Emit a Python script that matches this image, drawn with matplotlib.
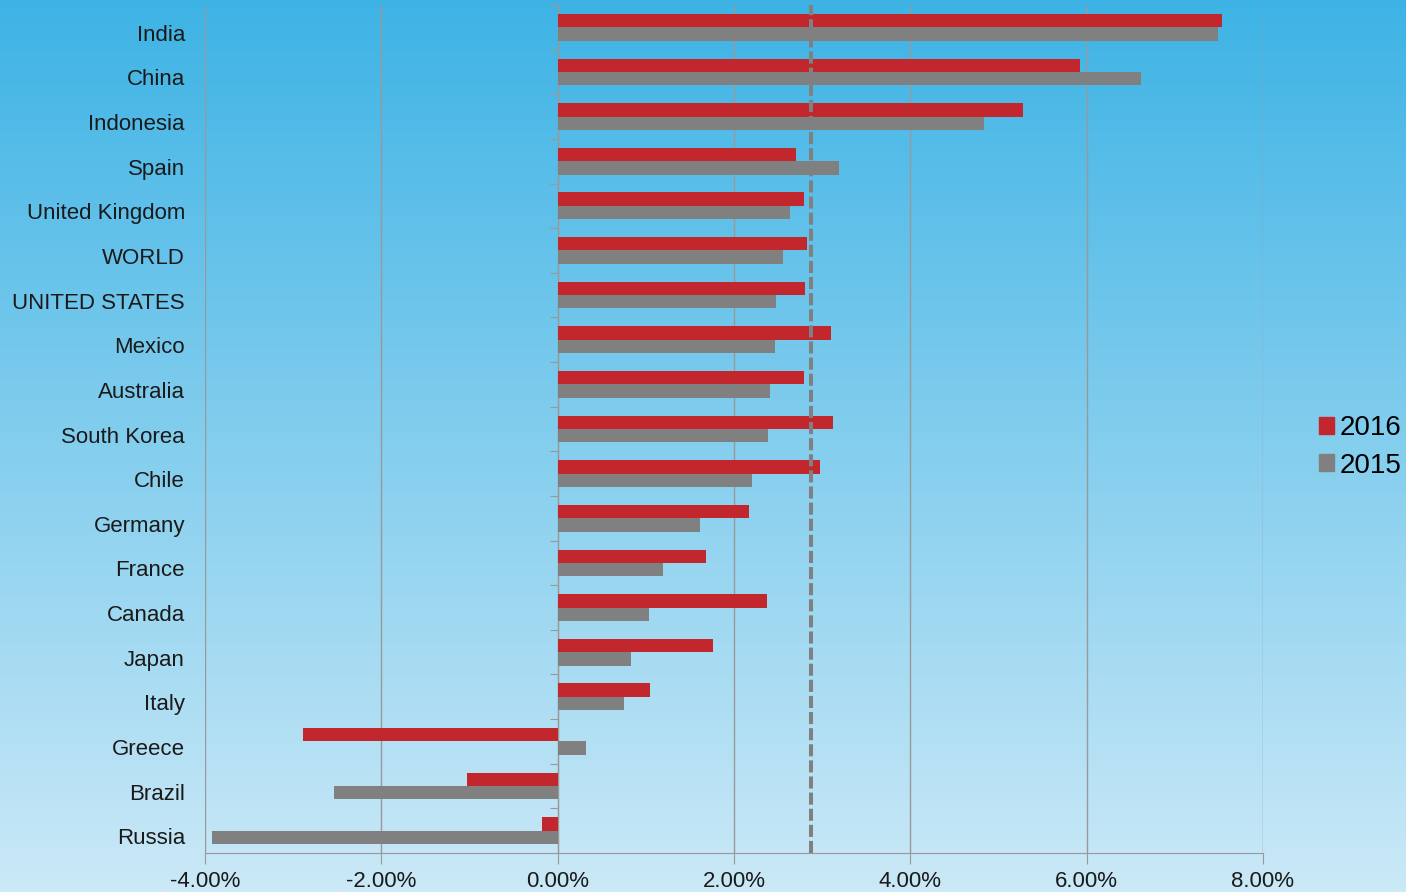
import numpy as np
import matplotlib
matplotlib.use("Agg")
import matplotlib.pyplot as plt
from matplotlib.patches import Patch
from matplotlib.colors import LinearSegmentedColormap

plt.rcParams['font.family'] = ['Liberation Sans', 'DejaVu Sans']

countries = ['India', 'China', 'Indonesia', 'Spain', 'United Kingdom', 'WORLD',
             'UNITED STATES', 'Mexico', 'Australia', 'South Korea', 'Chile',
             'Germany', 'France', 'Canada', 'Japan', 'Italy', 'Greece',
             'Brazil', 'Russia']
g2016 = [7.54, 5.93, 5.28, 2.70, 2.79, 2.83, 2.81, 3.10, 2.79, 3.12, 2.98,
         2.17, 1.68, 2.37, 1.76, 1.05, -2.89, -1.03, -0.18]
g2015 = [7.49, 6.62, 4.84, 3.19, 2.63, 2.56, 2.48, 2.47, 2.41, 2.39, 2.20,
         1.61, 1.20, 1.04, 0.83, 0.75, 0.32, -2.54, -3.92]
ref_line = 2.87
xticks = [-4, -2, 0, 2, 4, 6, 8]

red = '#c1272d'
gray = '#808080'
txt = '#1a1a1a'

fig = plt.figure(figsize=(14.06, 8.92), dpi=100)

# background gradient
bg = fig.add_axes([0, 0, 1, 1], zorder=-10)
grad = np.linspace(0, 1, 256).reshape(-1, 1)
cmap = LinearSegmentedColormap.from_list('bg', ['#3db3e5', '#cbe9f7'])
bg.imshow(grad, aspect='auto', cmap=cmap, extent=[0, 1, 0, 1], origin='upper')
bg.axis('off')

W, H = 1406, 892
ax = fig.add_axes([205 / W, (H - 853) / H, (1263 - 205) / W, (853 - 5) / H])
ax.patch.set_alpha(0)

n = len(countries)
y = np.arange(n)
h = 0.3
ax.barh(y - h / 2, g2016, height=h, color=red, zorder=3)
ax.barh(y + h / 2, g2015, height=h, color=gray, zorder=3)

ax.set_ylim(n - 0.5, -0.5)
ax.set_xlim(-4, 8)
ax.set_xticks(xticks)
ax.set_xticklabels(['%.2f%%' % v for v in xticks], fontsize=16, color=txt)
ax.tick_params(axis='x', length=8, color='#999999', pad=5)

ax.xaxis.grid(True, color='#999999', linewidth=1)
ax.set_axisbelow(True)
ax.axvline(ref_line, color=gray, linewidth=2.9, linestyle=(0, (3, 1)), zorder=4)

for s in ['top', 'right']:
    ax.spines[s].set_visible(False)
ax.spines['bottom'].set_color('#999999')
ax.spines['left'].set_position(('data', 0))
ax.spines['left'].set_color('#999999')

ax.set_yticks(np.arange(n + 1) - 0.5)
ax.set_yticklabels([])
ax.tick_params(axis='y', length=6, color='#999999')
for i, c in enumerate(countries):
    ax.text(-20 / 1058, i + 0.18, c, transform=ax.get_yaxis_transform(),
            ha='right', va='center', fontsize=16, color=txt)

handles = [Patch(color=red, label='2016'), Patch(color=gray, label='2015')]
fig.legend(handles=handles, loc='center left', bbox_to_anchor=(1319 / W, 1 - 447 / H),
           frameon=False, fontsize=20, handlelength=0.55, handleheight=0.55,
           handletextpad=0.2, labelspacing=0.4, borderpad=0, borderaxespad=0)

fig.savefig('out.png', dpi=100)
